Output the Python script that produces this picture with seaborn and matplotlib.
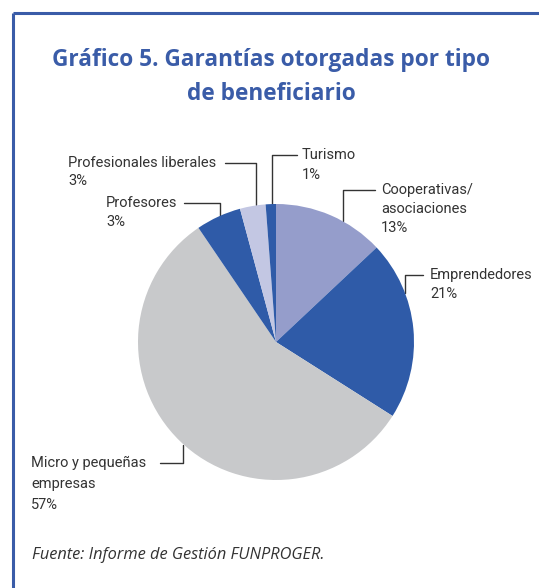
import matplotlib
matplotlib.use("Agg")
import matplotlib.pyplot as plt
import seaborn as sns

# slice shares as drawn (clockwise from 12 o'clock) and the printed labels
categories = ["Cooperativas/\nasociaciones", "Emprendedores", "Micro y pequeñas\nempresas",
              "Profesores", "Profesionales liberales", "Turismo"]
shares = [13, 21, 56.5, 5.3, 3, 1.2]
pct_labels = ["13%", "21%", "57%", "3%", "3%", "1%"]
colors = ["#959dcb", "#2f5ba8", "#c8c9cb", "#2f5ba8", "#c3c7e3", "#2f5ba8"]

sns.set_theme(style="white")
plt.rcParams["font.family"] = ["Roboto", "DejaVu Sans"]

W, H = 539, 588
fig = plt.figure(figsize=(W / 100, H / 100), dpi=100)

# overlay in pixel coordinates for frame, texts and leader lines
ov = fig.add_axes([0, 0, 1, 1])
ov.set_xlim(0, W)
ov.set_ylim(H, 0)
ov.axis("off")

# pie: centre (276, 342), radius 138 px
cx, cy, r = 276, 342, 138
ax = fig.add_axes([(cx - r) / W, (H - cy - r) / H, 2 * r / W, 2 * r / H])
ax.pie(shares, colors=colors, startangle=90, counterclock=False,
       wedgeprops=dict(linewidth=0))
ax.set_xlim(-1, 1)
ax.set_ylim(-1, 1)
ax.axis("off")

blue = "#3a5ca8"
ov.plot([13, 13], [H, 13], color=blue, lw=2.2, solid_capstyle="butt")
ov.plot([13, W], [13, 13], color=blue, lw=2.2, solid_capstyle="butt")

ov.text(271, 77, "Gráfico 5. Garantías otorgadas por tipo\nde beneficiario",
        ha="center", va="center", fontsize=16.3, fontweight="bold", color=blue,
        family=["Open Sans", "DejaVu Sans"], linespacing=1.5)

txt = dict(fontsize=10.5, color="#333333", va="top", ha="left", linespacing=1.45)
lc = dict(color="#333333", lw=1)

# Cooperativas
ov.text(381, 183, categories[0] + "\n" + pct_labels[0], **txt)
ov.plot([375, 343, 343], [190, 190, 221], **lc)
# Emprendedores
ov.text(430, 268, categories[1] + "\n" + pct_labels[1], **txt)
ov.plot([423, 405, 405], [275, 275, 293], **lc)
# Micro
ov.text(31, 456, categories[2] + "\n" + pct_labels[2], **dict(txt, linespacing=1.65))
ov.plot([160, 183, 183], [463, 463, 445], **lc)
# Profesores
ov.text(106, 196, categories[3] + "\n" + pct_labels[3], **txt)
ov.plot([184, 220, 220], [203, 203, 216], **lc)
# Profesionales liberales
ov.text(68, 156, categories[4] + "\n" + pct_labels[4], **dict(txt, linespacing=1.35))
ov.plot([225, 256, 256], [163, 163, 205], **lc)
# Turismo
ov.text(302, 148, categories[5] + "\n" + pct_labels[5], **dict(txt, linespacing=1.55))
ov.plot([297, 272, 272], [155, 155, 205], **lc)

ov.text(32, 555, "Fuente: Informe de Gestión FUNPROGER.", fontsize=11.8,
        style="italic", color="#333333", va="center", ha="left",
        family=["Open Sans", "DejaVu Sans"])

fig.savefig("out.png", dpi=100)
